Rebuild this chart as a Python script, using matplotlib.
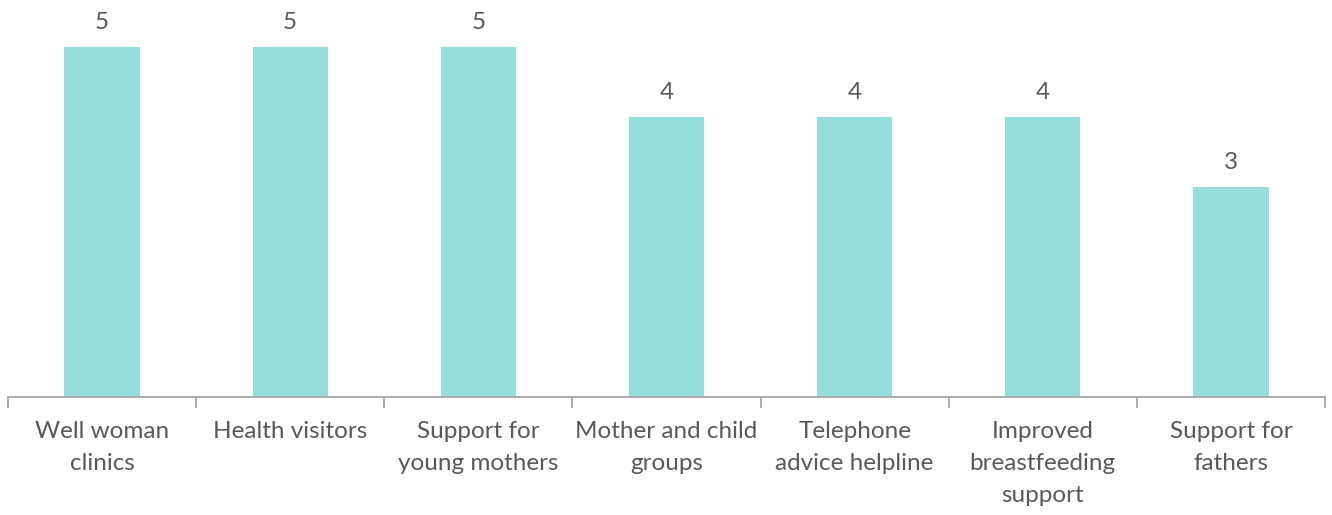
import matplotlib
matplotlib.use("Agg")
import matplotlib.pyplot as plt
import numpy as np

categories = [
    "Well woman\nclinics",
    "Health visitors",
    "Support for\nyoung mothers",
    "Mother and child\ngroups",
    "Telephone\nadvice helpline",
    "Improved\nbreastfeeding\nsupport",
    "Support for\nfathers",
]
values = [5, 5, 5, 4, 4, 4, 3]

plt.rcParams['font.family'] = ['Lato', 'DejaVu Sans']

W, H = 1332, 515
fig = plt.figure(figsize=(W / 100, H / 100), dpi=100)
left, right = 8 / W, 1325 / W
bottom, top = 1 - 397 / H, 1.0
ax = fig.add_axes([left, bottom, right - left, top - bottom])

x = np.arange(len(values))
bars = ax.bar(x, values, width=0.4, color="#94DFDB")
ax.set_xlim(-0.5, len(values) - 0.5)
ax.set_ylim(0, 397 / 70)

for xi, v in zip(x, values):
    ax.text(xi, v + 0.2, f"{v}", ha="center", va="bottom",
            fontsize=17.5, color="#595959")

for s in ["top", "right", "left"]:
    ax.spines[s].set_visible(False)
ax.spines["bottom"].set_color("#A6A6A6")
ax.spines["bottom"].set_linewidth(1.3)
ax.set_yticks([])

# category labels centred, with tick marks at the category boundaries
ax.set_xticks(x)
ax.set_xticklabels(categories, fontsize=17.5, color="#595959", linespacing=1.65)
ax.tick_params(axis="x", which="major", length=0, pad=17)
ax.set_xticks(np.arange(-0.5, len(values)), minor=True)
ax.tick_params(axis="x", which="minor", length=8, width=1.3, color="#A6A6A6")

fig.savefig("out.png", dpi=100)
